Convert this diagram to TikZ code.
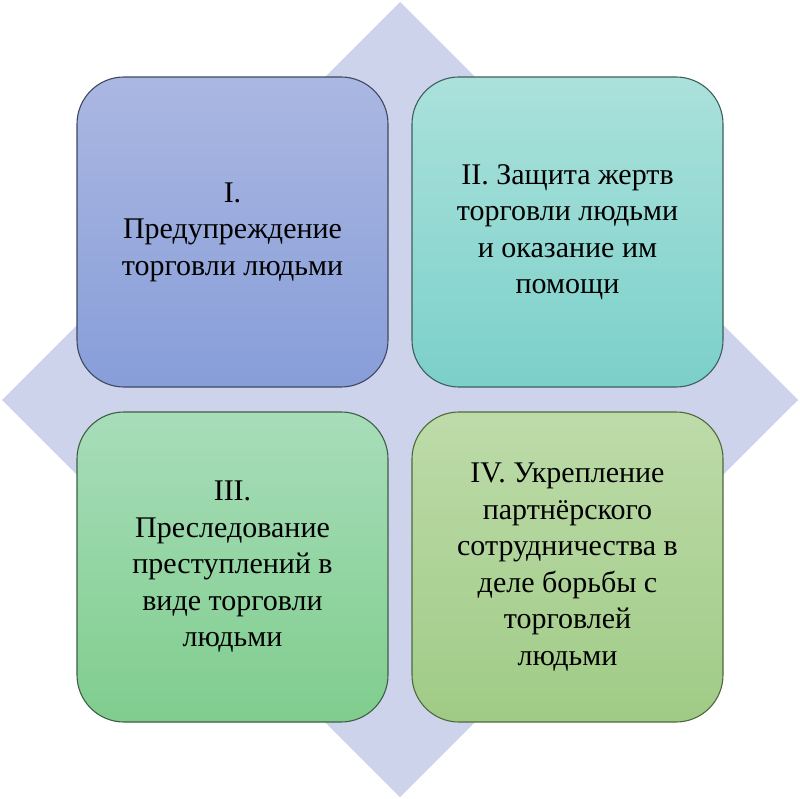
\documentclass[tikz,border=0pt]{standalone}
\usepackage{fontspec}
\newfontfamily\serA{Liberation Serif}
\newfontfamily\serB{LiberationSerif-Regular.ttf}
\newfontfamily\serC{DejaVu Serif}
\newcommand\myGradQuad[4]{%
  \begin{scope}
    \clip[rounded corners=47pt] (#1-155.5,#2-155) rectangle (#1+155.5,#2+155);
    \foreach \i [evaluate=\i as \p using {100-\i*100/61}] in {0,...,61} {
      \fill[#4!\p!#3] (#1-156,#2-155+\i*5) rectangle (#1+156,#2-155+\i*5+5.6);
    }
  \end{scope}}
\begin{document}
\begin{tikzpicture}[x=1pt,y=-1pt,
  quad/.style={draw, line width=1.1pt, rounded corners=47pt, minimum width=311pt, minimum height=310pt,
    inner sep=0pt, align=center, text=black, font=\serB\fontsize{30}{36.5}\selectfont},
]
\useasboundingbox (0,0) rectangle (800,799);
\definecolor{diam}{HTML}{CDD3EA}
\definecolor{aT}{HTML}{AAB7E1}\definecolor{aB}{HTML}{889ED9}\definecolor{aD}{HTML}{3E4862}
\definecolor{bT}{HTML}{ABE1DB}\definecolor{bB}{HTML}{7CD0CA}\definecolor{bD}{HTML}{3E5F5C}
\definecolor{cT}{HTML}{A7DDB9}\definecolor{cB}{HTML}{80CD8E}\definecolor{cD}{HTML}{3E5E45}
\definecolor{dT}{HTML}{BDDBA9}\definecolor{dB}{HTML}{A0CB86}\definecolor{dD}{HTML}{4E6A3C}
\fill[diam] (400,2) -- (798,400) -- (400,797) -- (2,400) -- cycle;
\myGradQuad{232.5}{232}{aB}{aT}
\myGradQuad{567.5}{232}{bB}{bT}
\myGradQuad{232.5}{567}{cB}{cT}
\myGradQuad{567.5}{567}{dB}{dT}
\node[quad, draw=aD] (q1) at (232.5,232)
  {I.\\Предупреждение\\торговли людьми};
\node[quad, draw=bD] (q2) at (567.5,232)
  {II. Защита жертв\\торговли людьми\\и оказание им\\помощи};
\node[quad, draw=cD] (q3) at (232.5,567)
  {III.\\Преследование\\преступлений в\\виде торговли\\людьми};
\node[quad, draw=dD] (q4) at (567.5,567)
  {IV. Укрепление\\партнёрского\\сотрудничества в\\деле борьбы с\\торговлей\\людьми};
\end{tikzpicture}
\end{document}
